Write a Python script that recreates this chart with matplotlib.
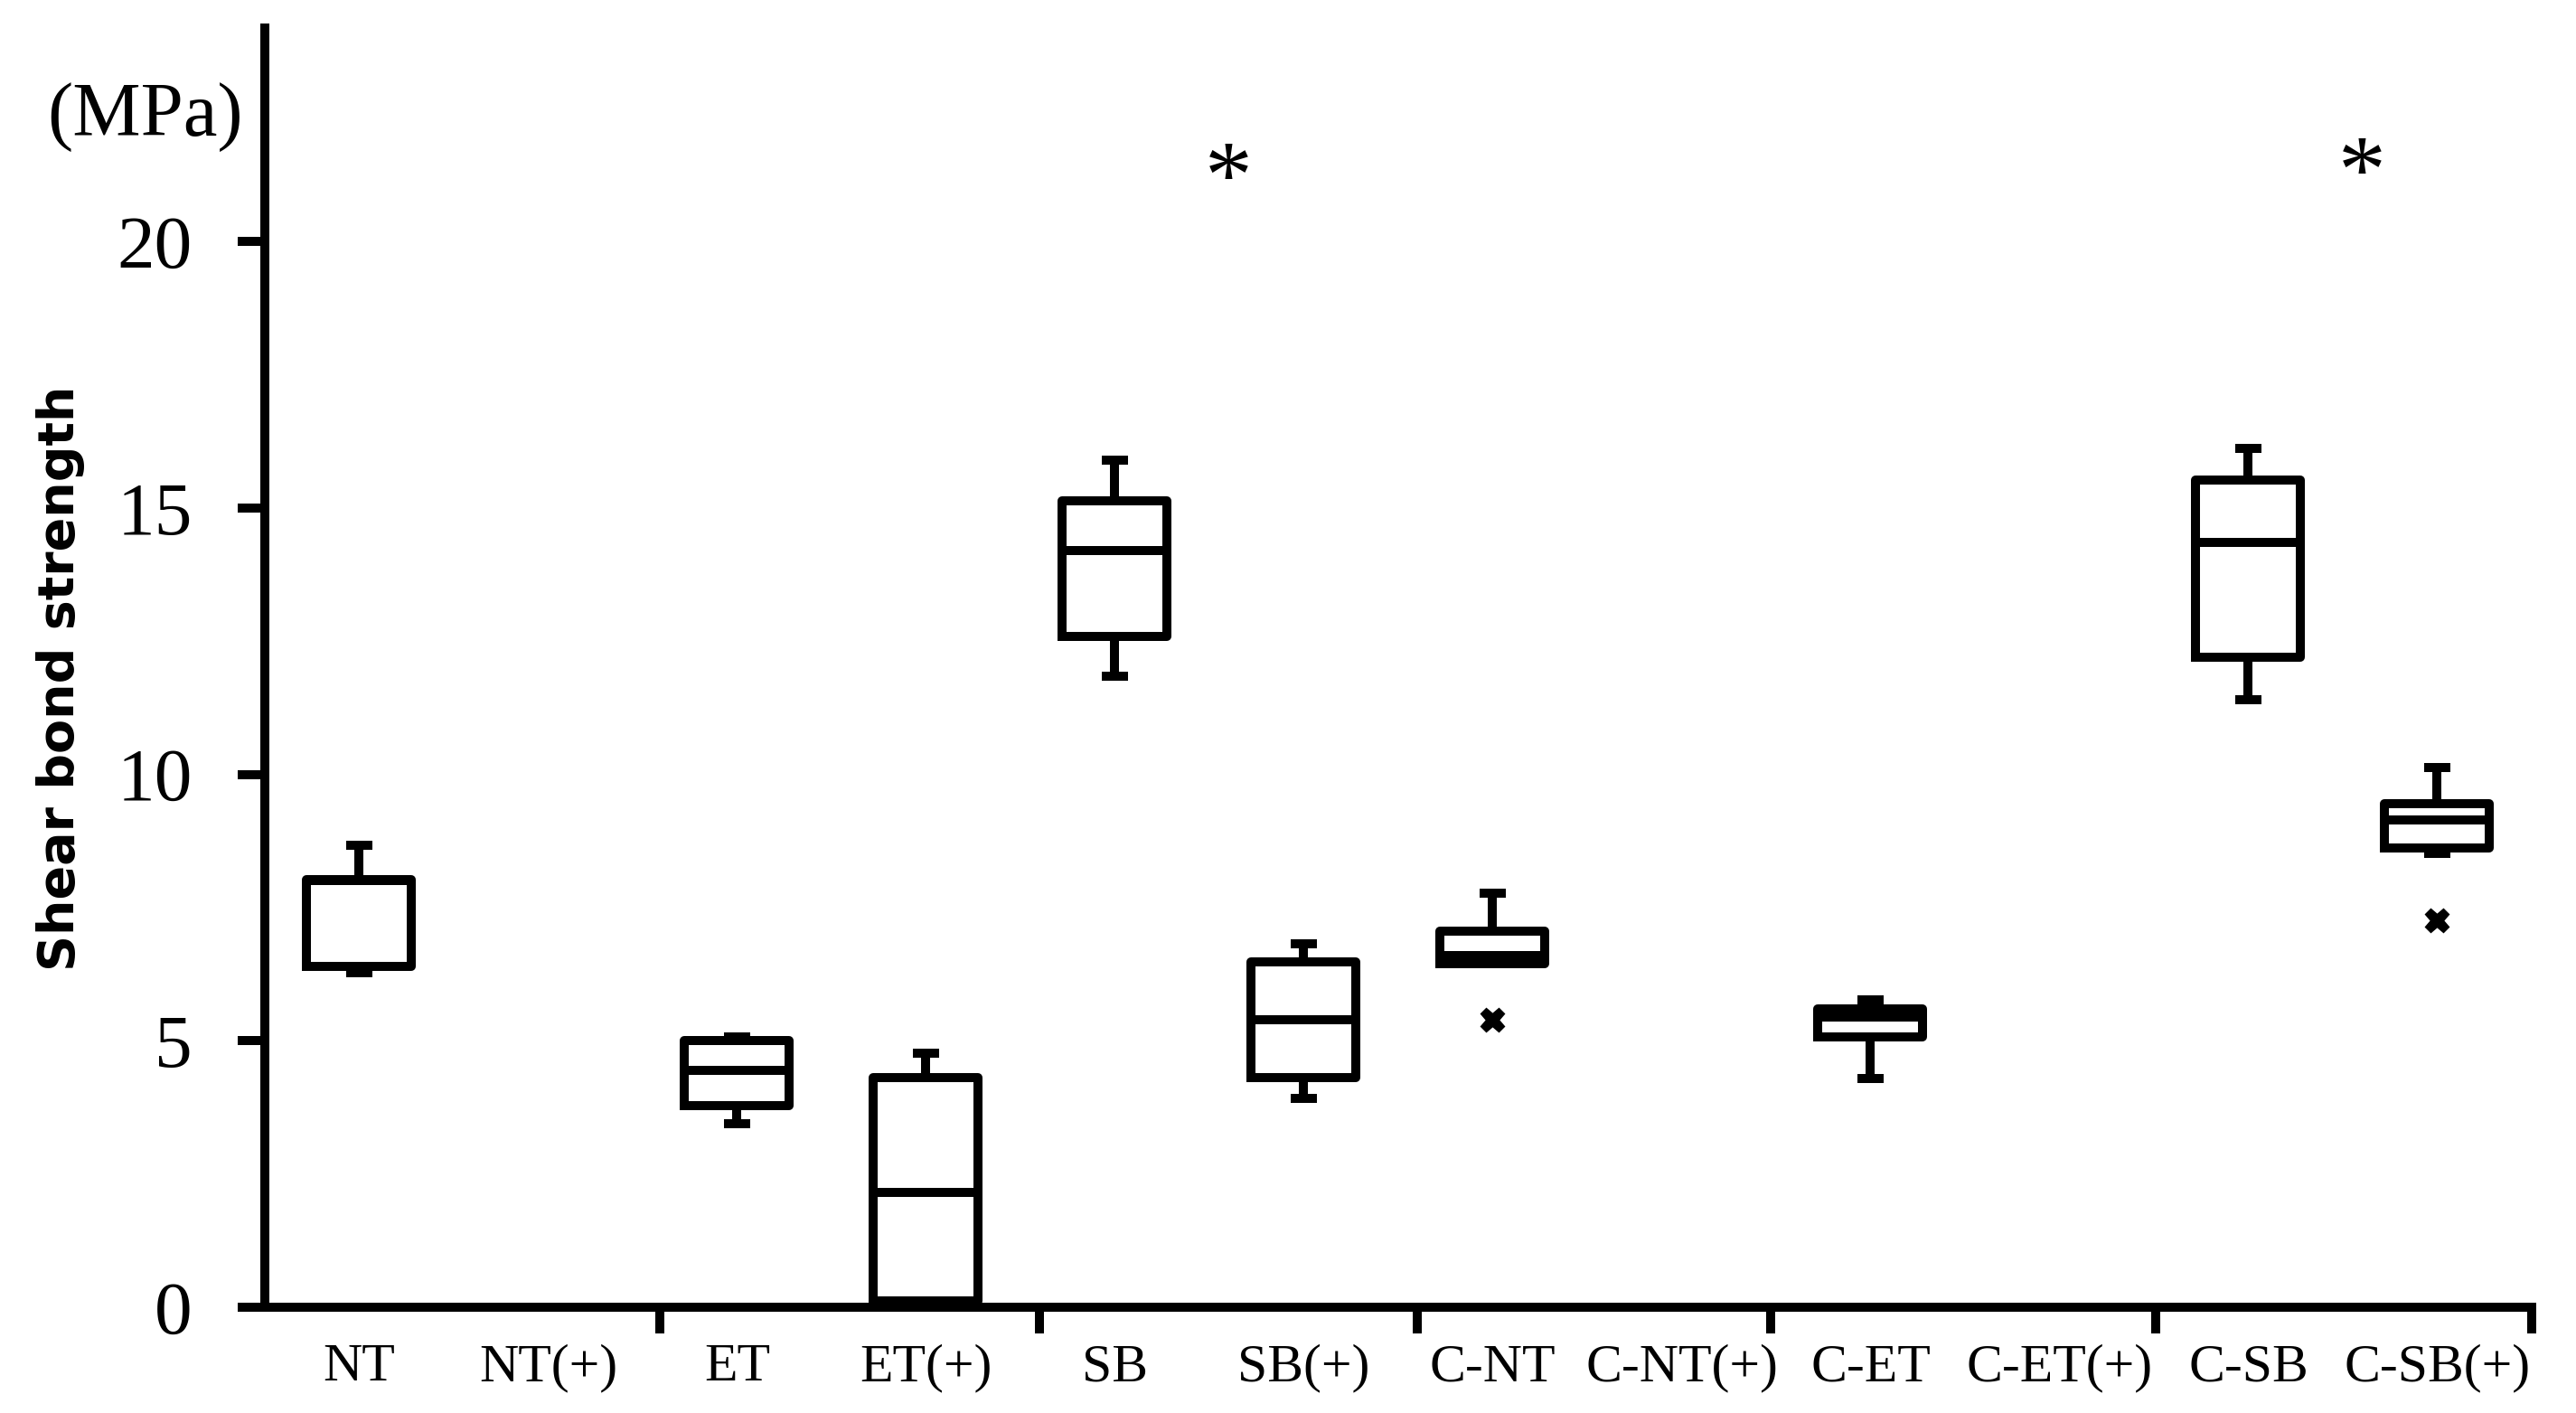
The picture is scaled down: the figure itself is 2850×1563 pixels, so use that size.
import matplotlib
matplotlib.use("Agg")
import matplotlib.pyplot as plt

# ---- data ----
categories = ["NT", "NT(+)", "ET", "ET(+)", "SB", "SB(+)",
              "C-NT", "C-NT(+)", "C-ET", "C-ET(+)", "C-SB", "C-SB(+)"]
# None = no box drawn for that category
whislo = [6.28, None, 3.44, 0.00, 11.85, 3.91, 6.45, None, 4.29, None, 11.40, 8.52]
q1     = [6.39, None, 3.78, 0.12, 12.59, 4.30, 6.45, None, 5.07, None, 12.20, 8.62]
median = [8.00, None, 4.44, 2.16, 14.20, 5.39, 6.60, None, 5.45, None, 14.35, 9.15]
q3     = [8.03, None, 5.00, 4.30, 15.14, 6.48, 7.05, None, 5.60, None, 15.52, 9.45]
whishi = [8.67, None, 5.07, 4.76, 15.90, 6.82, 7.77, None, 5.77, None, 16.12, 10.12]
outliers = [[], [], [], [], [], [], [5.39], [], [], [], [], [7.26]]

# significance stars (x position between categories, y value)
star_x = [4.6, 10.6]
star_y = [20.65, 20.75]

yticks = [0, 5, 10, 15, 20]
group_ticks = [1.59, 3.6, 5.6, 7.47, 9.51, 11.5]

SERIF = ["Liberation Serif", "DejaVu Serif"]
LW = 7.2

fig = plt.figure(figsize=(28.5, 15.63), dpi=100)
ax = fig.add_axes([0.1028, 0.0749, 0.880, 0.9050])

stats, pos = [], []
for i, c in enumerate(categories):
    if median[i] is None:
        continue
    stats.append(dict(label=c, whislo=whislo[i], q1=q1[i], med=median[i],
                      q3=q3[i], whishi=whishi[i], fliers=outliers[i]))
    pos.append(i)

line_kw = dict(color="black", linewidth=LW, solid_joinstyle="round")
ax.bxp(stats, positions=pos, widths=0.555, capwidths=0.135,
       showfliers=True, manage_ticks=False,
       boxprops=line_kw,
       medianprops=dict(color="black", linewidth=LW),
       whiskerprops=dict(color="black", linewidth=LW, solid_capstyle="butt"),
       capprops=dict(color="black", linewidth=LW, solid_capstyle="butt"),
       flierprops=dict(marker="X", markerfacecolor="black",
                       markeredgecolor="black", markersize=19, linestyle="none"))

ax.set_xlim(-0.5, 11.5)
ax.set_ylim(0, 24)

for s in ["top", "right"]:
    ax.spines[s].set_visible(False)
for s in ["left", "bottom"]:
    ax.spines[s].set_linewidth(LW)
    ax.spines[s].set_capstyle("projecting")

ax.set_yticks(yticks)
ax.set_yticklabels([str(v) for v in yticks])
ax.tick_params(axis="y", direction="out", length=21.6, width=LW, pad=36,
               labelsize=60)
for t in ax.get_yticklabels():
    t.set_family(SERIF)

ax.set_xticks(group_ticks)
ax.set_xticklabels([])
ax.tick_params(axis="x", which="major", direction="out", length=21, width=LW)
ax.set_xticks(range(len(categories)), minor=True)
ax.set_xticklabels(categories, minor=True)
ax.tick_params(axis="x", which="minor", length=0, pad=29, labelsize=43)
for t in ax.get_xticklabels(minor=True):
    t.set_family(SERIF)

for x, y in zip(star_x, star_y):
    ax.text(x, y, "*", ha="center", va="baseline", fontsize=76,
            family=SERIF, color="black")

fig.text(0.0565, 0.917, "(MPa)", ha="center", va="center", fontsize=61,
         family=SERIF)
fig.text(0.0235, 0.52, "Shear bond strength", rotation=90, ha="center",
         va="center", fontsize=40, fontweight="bold",
         family=["DejaVu Sans"])

fig.savefig("out.png", dpi=100, facecolor="white")
